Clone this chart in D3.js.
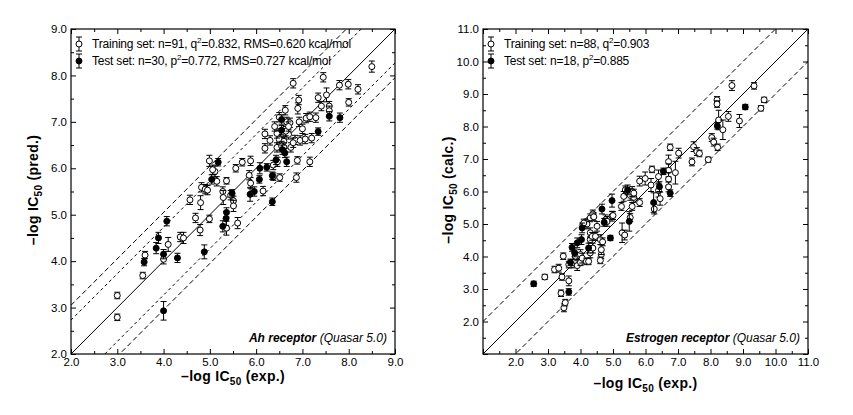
<!DOCTYPE html>
<html>
<head>
<meta charset="utf-8">
<script src="https://cdn.jsdelivr.net/npm/d3@7"></script>
<style>
  body { margin: 0; background: #fff; }
  text { font-family: "Liberation Sans", Arial, sans-serif; fill: #000; }
</style>
</head>
<body>
<script>
// [exp, pred, error] for each compound
var ahTrain = [
  [3.0,3.26,.07],[3.0,2.79,.07],[3.55,3.69,.07],[3.6,4.13,.08],[4.0,4.04,.1],[4.1,4.36,.15],[4.36,4.52,.1],[4.43,4.5,.12],
  [4.57,5.32,.1],[4.69,4.93,.1],[4.79,4.67,.12],[4.8,5.26,.15],[4.82,5.59,.1],[4.9,5.55,.1],[4.95,5.53,.1],[4.99,4.91,.08],
  [4.99,6.16,.12],[5.11,5.93,.12],[5.15,5.72,.1],[5.28,5.5,.1],[5.29,5.37,.15],[5.36,5.73,.07],[5.36,4.71,.15],[5.51,5.3,.1],
  [5.51,5.19,.12],[5.6,4.82,.12],[5.56,6.0,.08],[5.7,6.13,.08],[5.88,6.16,.1],[5.88,5.68,.12],[6.15,5.51,.1],[6.19,6.43,.1],
  [6.19,6.74,.1],[6.37,5.82,.08],[6.51,5.8,.08],[6.37,6.07,.1],[6.46,6.14,.1],[6.87,5.8,.1],[6.89,6.17,.08],[7.16,6.14,.1],
  [7.2,6.65,.1],[6.84,6.61,.1],[6.95,6.6,.1],[7.06,6.63,.1],[6.51,6.54,.1],[6.59,6.72,.1],[6.7,6.73,.1],[6.64,6.8,.1],
  [6.66,7.0,.1],[6.73,6.98,.1],[6.93,7.0,.1],[7.08,7.08,.1],[7.16,7.11,.1],[7.29,7.09,.1],[6.63,7.25,.1],[6.9,7.29,.12],
  [6.92,7.47,.1],[7.34,7.52,.1],[7.52,7.58,.15],[7.41,7.34,.1],[7.58,7.34,.1],[7.58,7.24,.1],[8.0,7.42,.08],[6.8,7.83,.1],
  [7.45,7.96,.1],[7.8,7.79,.1],[7.99,7.81,.1],[8.2,7.7,.1],[8.5,8.19,.12],[6.5,6.62,.1],[6.6,6.58,.1],[6.45,6.45,.1],
  [6.55,6.48,.1],[6.3,6.6,.1],[6.45,6.75,.1],[6.6,6.45,.1],[6.7,6.9,.1],[6.5,7.1,.1],[6.4,6.9,.1],[6.75,6.45,.1],
  [6.8,6.55,.1],[7.0,6.85,.1],[5.85,5.85,.1],[5.06,5.97,.1],[5.45,5.42,.1]
];
var ahTest = [
  [3.58,3.98,.08],[3.84,4.28,.12],[3.89,4.5,.12],[4.0,4.15,.1],[4.07,4.86,.1],[4.3,4.07,.1],[4.0,2.93,.2],[4.88,4.2,.15],
  [5.04,5.76,.1],[5.18,6.13,.08],[5.28,4.75,.12],[5.35,4.92,.15],[5.36,5.05,.1],[5.48,5.46,.08],[5.87,5.44,.15],[5.96,5.5,.1],
  [6.07,5.76,.08],[6.08,6.0,.12],[6.23,6.02,.08],[6.35,5.84,.08],[6.35,5.28,.08],[6.43,6.18,.1],[6.66,6.14,.1],[6.57,6.4,.1],
  [6.62,6.33,.1],[6.55,6.82,.1],[6.55,7.05,.1],[7.34,6.79,.08],[7.58,7.12,.1],[7.81,7.09,.1]
];
var erTrain = [
  [2.9,3.37,.08],[3.2,3.6,.1],[3.33,3.64,.12],[3.43,3.37,.1],[3.4,2.87,.1],[3.49,2.42,.12],[3.53,2.58,.1],[3.64,3.25,.15],
  [3.47,4.01,.1],[3.74,3.75,.1],[3.84,3.88,.15],[3.84,4.01,.1],[3.9,3.72,.15],[4.0,3.82,.1],[4.0,4.06,.15],[4.05,3.95,.15],
  [4.18,3.85,.1],[4.3,4.11,.15],[4.38,4.26,.15],[4.3,4.52,.1],[4.2,5.0,.15],[4.1,5.03,.12],[4.3,4.73,.15],[4.36,4.62,.12],
  [4.3,5.19,.12],[4.38,5.31,.12],[4.41,5.22,.12],[4.51,4.93,.15],[4.46,4.62,.12],[4.61,4.52,.15],[4.68,4.45,.12],[4.64,4.06,.12],
  [4.64,4.21,.15],[4.61,3.88,.1],[4.25,3.85,.1],[4.77,5.13,.15],[4.82,5.08,.15],[4.97,5.24,.15],[5.0,5.26,.12],[5.26,5.54,.12],
  [5.28,4.73,.3],[5.36,4.66,.15],[5.53,5.2,.12],[5.59,5.54,.12],[5.53,5.88,.15],[5.64,5.82,.15],[5.38,6.05,.12],[5.33,5.85,.15],
  [5.59,6.0,.15],[5.64,5.95,.12],[5.82,5.66,.12],[5.82,6.32,.15],[5.99,6.4,.2],[6.17,6.2,.2],[6.2,6.68,.1],[6.4,6.46,.2],
  [6.4,6.03,.2],[6.45,5.78,.2],[6.27,5.46,.15],[6.71,6.92,.2],[6.71,6.65,.2],[6.71,6.38,.2],[6.71,6.14,.15],[6.92,6.58,.35],
  [6.76,7.36,.1],[7.02,7.18,.15],[7.43,6.91,.12],[7.48,7.38,.15],[7.58,7.23,.12],[7.66,7.17,.1],[7.93,6.98,.08],[8.04,7.66,.12],
  [8.1,7.52,.12],[8.22,7.36,.1],[8.2,8.82,.1],[8.2,8.69,.1],[8.25,8.2,.3],[8.38,7.9,.3],[8.55,8.31,.15],[8.89,8.17,.2],
  [8.66,9.26,.15],[9.34,9.25,.1],[9.65,8.82,.08],[9.55,8.56,.08],[3.64,3.75,.1]
];
var erTest = [
  [2.56,3.16,.08],[3.64,2.91,.1],[3.69,3.82,.1],[3.74,4.28,.12],[3.82,4.11,.12],[3.9,4.42,.15],[4.03,4.52,.15],[4.05,4.88,.15],
  [4.25,4.26,.15],[4.66,5.46,.15],[4.92,4.57,.08],[4.73,5.05,.12],[4.97,5.72,.2],[5.5,5.08,.3],[5.45,6.05,.15],[6.25,5.66,.3],
  [6.43,6.15,.15],[6.55,6.62,.1],[6.76,5.95,.1],[8.21,8.02,.1],[9.07,8.6,.08]
];

var ahLegend = ["Training set: n=91, q|2|=0.832, RMS=0.620 kcal/mol", "Test set: n=30, p|2|=0.772, RMS=0.727 kcal/mol"];
var erLegend = ["Training set: n=88, q|2|=0.903", "Test set: n=18, p|2|=0.885"];
var ahBands = [[0, "none"], [0.73, "3,3"], [-0.73, "3,3"], [1.05, "5,3"], [-1.05, "5,3"]];
var erBands = [[0, "none"], [1, "5,3"], [-1, "5,3"]];

var svg = d3.select("body").append("svg")
  .attr("width", 853)
  .attr("height", 415);

var fmt = d3.format(".1f");

// writes text with "|x|" parts raised as superscript
function richText(sel, s) {
  s.split("|").forEach(function(part, i){
    var t = sel.append("tspan").text(part);
    if (i % 2 == 1) t.attr("font-size", "8px").attr("dy", -5);
    else if (i > 0) t.attr("dy", 5);
  });
}

function axisTitle(g, label, x, y, rotate) {
  var t = g.append("text")
    .attr("transform", "translate(" + x + "," + y + ")" + (rotate ? " rotate(-90)" : ""))
    .attr("text-anchor", "middle")
    .attr("font-size", "14px")
    .attr("font-weight", "bold")
    .attr("letter-spacing", "0.3px");
  t.append("tspan").text("\u2013log IC");
  t.append("tspan").attr("font-size", "10px").attr("dy", 4).text("50");
  t.append("tspan").attr("dy", -4).text(" (" + label + ")");
}

function drawPanel(o) {
  var x = d3.scaleLinear().domain(o.domain).range([o.x0, o.x1]);
  var y = d3.scaleLinear().domain(o.domain).range([o.y1, o.y0]);
  var g = svg.append("g");

  g.append("clipPath").attr("id", o.id + "clip")
    .append("rect")
    .attr("x", o.x0).attr("y", o.y0)
    .attr("width", o.x1 - o.x0).attr("height", o.y1 - o.y0);

  // diagonal y = x and the offset bands
  g.append("g").attr("clip-path", "url(#" + o.id + "clip)")
    .selectAll("line").data(o.bands).enter()
    .append("line")
    .attr("x1", x(o.domain[0])).attr("x2", x(o.domain[1]))
    .attr("y1", function(d){ return y(o.domain[0] + d[0]); })
    .attr("y2", function(d){ return y(o.domain[1] + d[0]); })
    .attr("stroke", "#000")
    .attr("stroke-width", 1)
    .attr("stroke-dasharray", function(d){ return d[1]; });

  // axes with inward ticks on all four sides
  var major = d3.range(o.domain[0], o.domain[1] + 0.01, 1);
  var minor = d3.range(o.domain[0] + 0.5, o.domain[1], 1);
  var lab = function(d){ return d >= o.firstLabel ? fmt(d) : ""; };
  var sides = [
    [d3.axisBottom(x), "translate(0," + o.y1 + ")", true],
    [d3.axisTop(x), "translate(0," + o.y0 + ")", false],
    [d3.axisLeft(y), "translate(" + o.x0 + ",0)", true],
    [d3.axisRight(y), "translate(" + o.x1 + ",0)", false]
  ];
  sides.forEach(function(s){
    var ax = s[0].tickValues(major).tickSize(-5).tickPadding(4)
      .tickFormat(s[2] ? lab : function(){ return ""; });
    var a = g.append("g").attr("transform", s[1]).call(ax);
    a.select(".domain").remove();
    a.selectAll("text").attr("font-size", "11.5px").attr("font-family", null);
    var m = g.append("g").attr("transform", s[1])
      .call(s[0].tickValues(minor).tickSize(-3).tickFormat(""));
    m.select(".domain").remove();
  });

  g.append("rect")
    .attr("x", o.x0).attr("y", o.y0)
    .attr("width", o.x1 - o.x0).attr("height", o.y1 - o.y0)
    .attr("fill", "none").attr("stroke", "#000").attr("stroke-width", 1.2);

  // points with error bars
  [[o.train, "#fff"], [o.test, "#000"]].forEach(function(set){
    var pts = g.append("g").selectAll("g").data(set[0]).enter().append("g");
    pts.append("path")
      .attr("d", function(d){
        var px = x(d[0]), a = y(d[1] + d[2]), b = y(d[1] - d[2]);
        return "M" + px + "," + a + "V" + b +
          "M" + (px - 3) + "," + a + "H" + (px + 3) +
          "M" + (px - 3) + "," + b + "H" + (px + 3);
      })
      .attr("stroke", "#000").attr("stroke-width", 1).attr("fill", "none");
    pts.append("circle")
      .attr("cx", function(d){ return x(d[0]); })
      .attr("cy", function(d){ return y(d[1]); })
      .attr("r", 3)
      .attr("fill", set[1])
      .attr("stroke", "#000");
  });

  // legend
  o.legend.forEach(function(s, i){
    var ly = o.y0 + 15 + i * 17, lx = o.x0 + 8;
    g.append("path")
      .attr("d", "M" + lx + "," + (ly - 7) + "V" + (ly + 7) +
        "M" + (lx - 3) + "," + (ly - 7) + "H" + (lx + 3) +
        "M" + (lx - 3) + "," + (ly + 7) + "H" + (lx + 3))
      .attr("stroke", "#000").attr("fill", "none");
    g.append("circle").attr("cx", lx).attr("cy", ly).attr("r", 3)
      .attr("fill", i ? "#000" : "#fff").attr("stroke", "#000");
    var t = g.append("text")
      .attr("x", lx + 13).attr("y", ly + 4)
      .attr("font-size", "12px")
      .attr("letter-spacing", "-0.2px");
    richText(t, s);
  });

  // receptor note in the lower right corner
  var note = g.append("text")
    .attr("x", o.x1 - 8).attr("y", o.y1 - 12)
    .attr("text-anchor", "end")
    .attr("font-size", "12px")
    .attr("font-style", "italic");
  note.append("tspan").attr("font-weight", "bold").text(o.note);
  note.append("tspan").text(" (Quasar 5.0)");

  axisTitle(g, "exp.", (o.x0 + o.x1) / 2, o.xTitleY, false);
  axisTitle(g, o.yLabel, o.yTitleX, 190, true);
}

drawPanel({
  id: "ah", domain: [2, 9], firstLabel: 2,
  x0: 71, x1: 395, y0: 29, y1: 354,
  train: ahTrain, test: ahTest, bands: ahBands, legend: ahLegend,
  note: "Ah receptor", yLabel: "pred.", xTitleY: 381, yTitleX: 38
});

drawPanel({
  id: "er", domain: [1, 11], firstLabel: 2,
  x0: 483, x1: 808, y0: 29, y1: 354,
  train: erTrain, test: erTest, bands: erBands, legend: erLegend,
  note: "Estrogen receptor", yLabel: "calc.", xTitleY: 388, yTitleX: 453
});
</script>
</body>
</html>
